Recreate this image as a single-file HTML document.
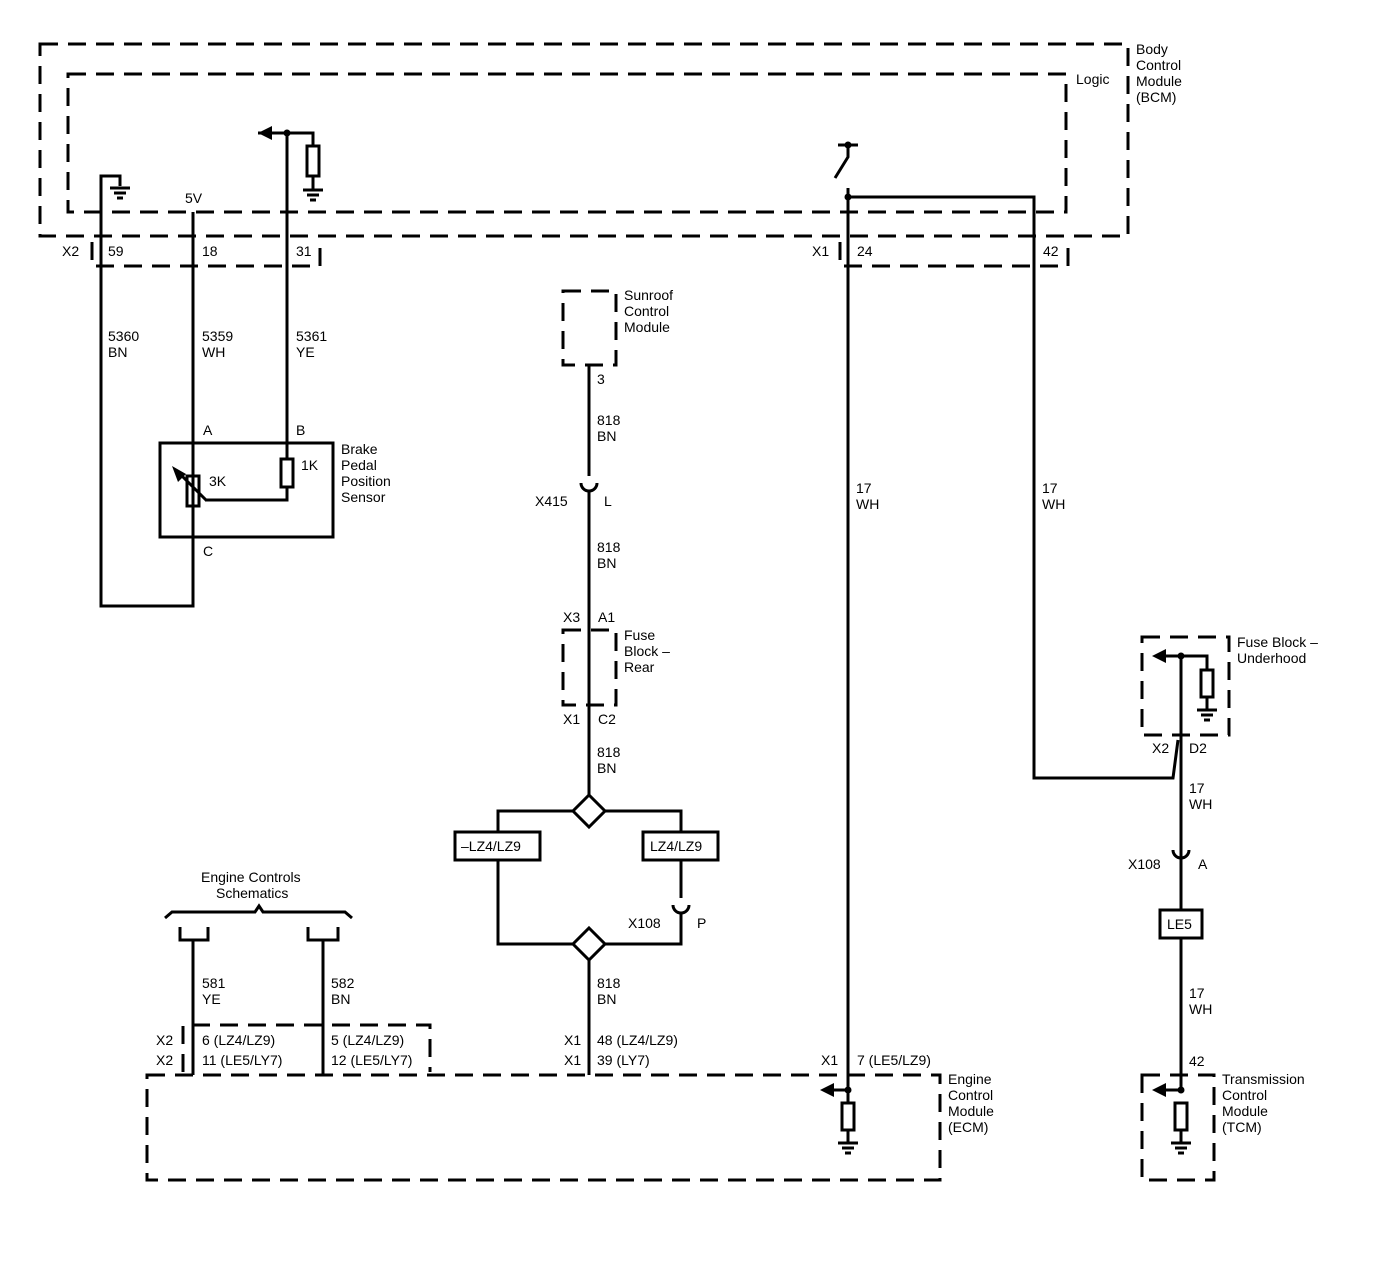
<!DOCTYPE html>
<html><head><meta charset="utf-8"><style>
html,body{margin:0;padding:0;background:#fff}
svg text{font-family:"Liberation Sans",Arial,sans-serif;font-size:14px;fill:#000}
</style></head><body>
<svg width="1400" height="1280" viewBox="0 0 1400 1280" xmlns="http://www.w3.org/2000/svg">
<defs>
<g id="gnd"><line x1="-10" y1="0" x2="10" y2="0" stroke="#000" stroke-width="3"/><line x1="-6" y1="5" x2="6" y2="5" stroke="#000" stroke-width="3"/><line x1="-3" y1="10" x2="3" y2="10" stroke="#000" stroke-width="3"/></g>
<g id="larr"><polygon points="0,0 14,-7 14,7" fill="#000"/></g>
</defs>
<g fill="none" stroke="#000" stroke-width="3">
<!-- dashed boxes -->
<g stroke-dasharray="18,10">
<rect x="40" y="44" width="1088" height="192"/>
<rect x="68" y="74" width="998" height="138"/>
<path d="M92,242 V266 H320 V242"/>
<path d="M840,242 V266 H1068 V242"/>
<rect x="563" y="291" width="53" height="74"/>
<rect x="563" y="630" width="53" height="75"/>
<rect x="1142" y="637" width="87" height="98"/>
<rect x="147" y="1075" width="793" height="105"/>
<rect x="1142" y="1075" width="72" height="105"/>
<path d="M183,1072 V1025 H430 V1072"/>
</g>
<!-- BCM left wires -->
<path d="M120,186 V176 H101 V606 H193 V212"/>
<path d="M258,133 H313 V146"/>
<rect x="307" y="146" width="12" height="30"/>
<line x1="313" y1="176" x2="313" y2="190"/>
<line x1="287" y1="133" x2="287" y2="459"/>
<!-- sensor -->
<rect x="160" y="443" width="173" height="94"/>
<rect x="187" y="476" width="12" height="30"/>
<rect x="281" y="459" width="12" height="28"/>
<path d="M287,487 V500 H205"/>
<line x1="176" y1="470" x2="206" y2="500"/>
<!-- switch -->
<line x1="838" y1="145" x2="858" y2="145"/>
<path d="M848,145 V157 L835,178"/>
<line x1="848" y1="188" x2="848" y2="1090"/>
<path d="M848,197 H1034 V778 H1173 L1178,740"/>
<line x1="1181" y1="656" x2="1181" y2="1090"/>
<path d="M1160,656 H1207 V670"/>
<rect x="1201" y="670" width="12" height="27"/>
<line x1="1207" y1="697" x2="1207" y2="710"/>
<!-- center -->
<line x1="589" y1="365" x2="589" y2="476"/>
<path d="M581,483 A8,8 0 0 0 597,483"/>
<line x1="589" y1="490" x2="589" y2="803"/>
<path d="M498,860 V811 H581 M597,811 H681 V832"/>
<polygon points="589,795 605,811 589,827 573,811" fill="#fff"/>
<rect x="455" y="832" width="85" height="28" fill="#fff"/>
<rect x="643" y="832" width="75" height="28" fill="#fff"/>
<line x1="681" y1="860" x2="681" y2="898"/>
<path d="M673,905 A8,8 0 0 0 689,905"/>
<path d="M681,913 V944 H597 M581,944 H498 V860"/>
<polygon points="589,928 605,944 589,960 573,944" fill="#fff"/>
<line x1="589" y1="960" x2="589" y2="1075"/>
<!-- right X108 -->
<path d="M1173,850 A8,8 0 0 0 1189,850"/>
<rect x="1160" y="910" width="42" height="28" fill="#fff"/>
<!-- engine controls -->
<path d="M165,918 L172,912 H255 L259,906 L263,912 H345 L352,918"/>
<path d="M180,927 V940 H208 V927"/>
<path d="M308,927 V940 H338 V927"/>
<line x1="193" y1="940" x2="193" y2="1075"/>
<line x1="323" y1="940" x2="323" y2="1075"/>
<!-- ECM -->
<line x1="832" y1="1090" x2="848" y2="1090"/>
<line x1="848" y1="1090" x2="848" y2="1103"/>
<rect x="842" y="1103" width="12" height="27" fill="#fff"/>
<line x1="848" y1="1130" x2="848" y2="1143"/>
<line x1="1164" y1="1090" x2="1181" y2="1090"/>
<rect x="1175" y="1103" width="12" height="27" fill="#fff"/>
<line x1="1181" y1="1130" x2="1181" y2="1143"/>
</g>
<!-- grounds, arrows, nodes -->
<use href="#gnd" x="120" y="188"/>
<use href="#gnd" x="313" y="190"/>
<use href="#gnd" x="1207" y="710"/>
<use href="#gnd" x="848" y="1143"/>
<use href="#gnd" x="1181" y="1143"/>
<use href="#larr" x="258" y="133"/>
<use href="#larr" x="1152" y="656"/>
<use href="#larr" x="820" y="1090"/>
<use href="#larr" x="1152" y="1090"/>
<polygon points="172,466 186,474 178,482" fill="#000"/>
<g fill="#000">
<circle cx="287" cy="133" r="3.5"/><circle cx="848" cy="145" r="3.5"/><circle cx="848" cy="197" r="3.5"/>
<circle cx="1181" cy="656" r="3.5"/><circle cx="848" cy="1090" r="3.5"/><circle cx="1181" cy="1090" r="3.5"/>
</g>
<!-- text -->
<text x="1136" y="54">Body</text><text x="1136" y="70">Control</text><text x="1136" y="86">Module</text><text x="1136" y="102">(BCM)</text>
<text x="1076" y="84">Logic</text>
<text x="185" y="203">5V</text>
<text x="62" y="256">X2</text><text x="108" y="256">59</text><text x="202" y="256">18</text><text x="296" y="256">31</text>
<text x="812" y="256">X1</text><text x="857" y="256">24</text><text x="1043" y="256">42</text>
<text x="108" y="341">5360</text><text x="108" y="357">BN</text>
<text x="202" y="341">5359</text><text x="202" y="357">WH</text>
<text x="296" y="341">5361</text><text x="296" y="357">YE</text>
<text x="203" y="435">A</text><text x="296" y="435">B</text><text x="203" y="556">C</text>
<text x="209" y="486">3K</text><text x="301" y="470">1K</text>
<text x="341" y="454">Brake</text><text x="341" y="470">Pedal</text><text x="341" y="486">Position</text><text x="341" y="502">Sensor</text>
<text x="624" y="300">Sunroof</text><text x="624" y="316">Control</text><text x="624" y="332">Module</text>
<text x="597" y="384">3</text>
<text x="597" y="425">818</text><text x="597" y="441">BN</text>
<text x="535" y="506">X415</text><text x="604" y="506">L</text>
<text x="597" y="552">818</text><text x="597" y="568">BN</text>
<text x="563" y="622">X3</text><text x="598" y="622">A1</text>
<text x="624" y="640">Fuse</text><text x="624" y="656">Block –</text><text x="624" y="672">Rear</text>
<text x="563" y="724">X1</text><text x="598" y="724">C2</text>
<text x="597" y="757">818</text><text x="597" y="773">BN</text>
<text x="461" y="851">–LZ4/LZ9</text><text x="650" y="851">LZ4/LZ9</text>
<text x="628" y="928">X108</text><text x="697" y="928">P</text>
<text x="597" y="988">818</text><text x="597" y="1004">BN</text>
<text x="564" y="1045">X1</text><text x="597" y="1045">48 (LZ4/LZ9)</text>
<text x="564" y="1065">X1</text><text x="597" y="1065">39 (LY7)</text>
<text x="856" y="493">17</text><text x="856" y="509">WH</text>
<text x="1042" y="493">17</text><text x="1042" y="509">WH</text>
<text x="1237" y="647">Fuse Block –</text><text x="1237" y="663">Underhood</text>
<text x="1152" y="753">X2</text><text x="1189" y="753">D2</text>
<text x="1189" y="793">17</text><text x="1189" y="809">WH</text>
<text x="1128" y="869">X108</text><text x="1198" y="869">A</text>
<text x="1167" y="929">LE5</text>
<text x="1189" y="998">17</text><text x="1189" y="1014">WH</text>
<text x="1189" y="1066">42</text>
<text x="1222" y="1084">Transmission</text><text x="1222" y="1100">Control</text><text x="1222" y="1116">Module</text><text x="1222" y="1132">(TCM)</text>
<text x="821" y="1065">X1</text><text x="857" y="1065">7 (LE5/LZ9)</text>
<text x="948" y="1084">Engine</text><text x="948" y="1100">Control</text><text x="948" y="1116">Module</text><text x="948" y="1132">(ECM)</text>
<text x="201" y="882">Engine Controls</text><text x="216" y="898">Schematics</text>
<text x="202" y="988">581</text><text x="202" y="1004">YE</text>
<text x="331" y="988">582</text><text x="331" y="1004">BN</text>
<text x="156" y="1045">X2</text><text x="202" y="1045">6 (LZ4/LZ9)</text><text x="331" y="1045">5 (LZ4/LZ9)</text>
<text x="156" y="1065">X2</text><text x="202" y="1065">11 (LE5/LY7)</text><text x="331" y="1065">12 (LE5/LY7)</text>
</svg>
</body></html>
